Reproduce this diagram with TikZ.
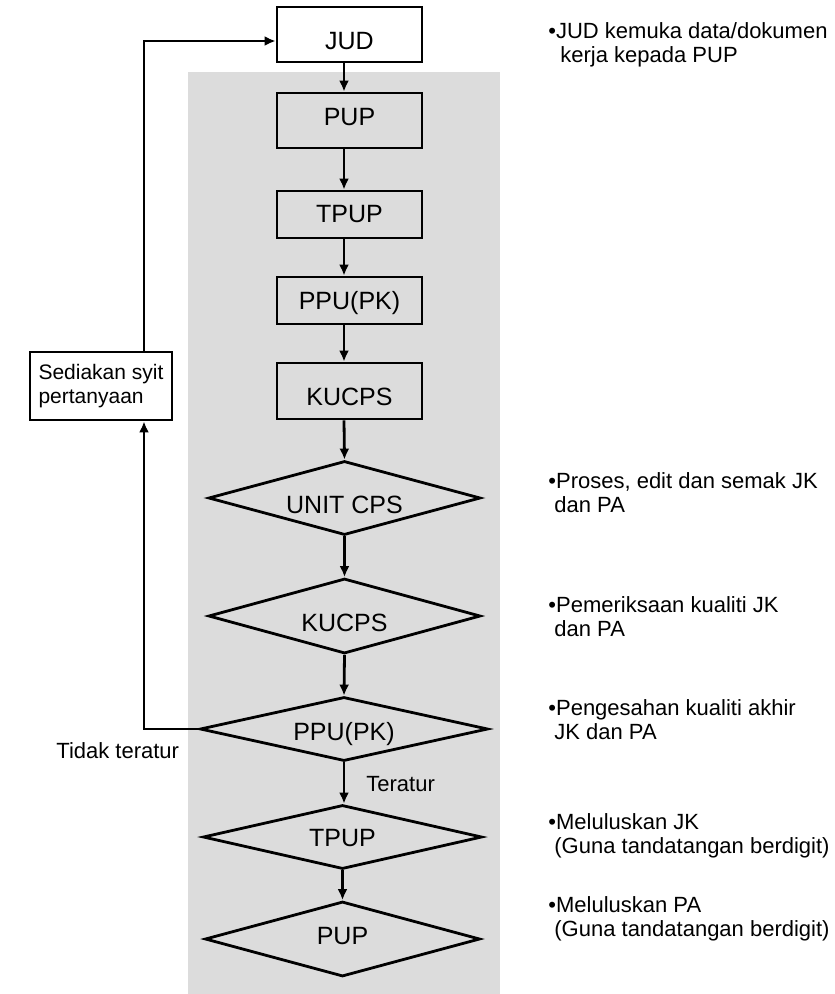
\documentclass[tikz,border=0pt]{standalone}
\usepackage{fontspec}
\setmainfont{Liberation Sans}
\usetikzlibrary{shapes.geometric,arrows.meta}
\definecolor{bggray}{RGB}{220,220,220}
\newcommand\tx[2]{\raisebox{#1pt}[0pt][0pt]{#2}}
\begin{document}
\begin{tikzpicture}[x=1pt,y=-1pt,
  line width=2.8pt,
  box/.style={draw=black, rectangle, inner sep=0pt, minimum width=145pt, font=\fontsize{25}{28}\selectfont},
  dia/.style={draw=black, diamond, inner sep=0pt, font=\fontsize{25}{28}\selectfont},
  note/.style={anchor=base west, inner sep=0pt, font=\fontsize{22}{24}\selectfont},
  arr/.style={-{Latex[length=11pt,width=10pt]}}]
\useasboundingbox (0,0) rectangle (835,994);
\fill[bggray] (188,72) rectangle (500,994);
\coordinate (ax) at (344,0);
\coordinate (lp) at (144,0);
% boxes
\node[box, fill=white, minimum height=55pt] (JUD) at (349.5,34.5) {\tx{-15}{JUD}};
\node[box, minimum height=55pt] (PUP) at (349.5,120.5) {\tx{-4.5}{PUP}};
\node[box, minimum height=47pt] (TPUP) at (349.5,214.5) {\tx{-7.5}{TPUP}};
\node[box, minimum height=47pt] (PPU) at (349.5,300.5) {\tx{-9}{PPU(PK)}};
\node[box, minimum height=56pt] (KUCPS) at (349.5,391) {\tx{-14}{KUCPS}};
% diamonds
\node[dia, aspect=3.68, minimum width=272pt, minimum height=74pt] (d1) at (344.5,498) {\tx{-15}{UNIT CPS}};
\node[dia, aspect=3.63, minimum width=272pt, minimum height=75pt] (d2) at (344.5,616) {\tx{-15}{KUCPS}};
\node[dia, aspect=4.5, minimum width=288pt, minimum height=64pt] (d3) at (344,729) {\tx{-11}{PPU(PK)}};
\node[dia, aspect=4.36, minimum width=279pt, minimum height=64pt] (d4) at (342.5,837) {\tx{-9}{TPUP}};
\node[dia, aspect=3.67, minimum width=275pt, minimum height=75pt] (d5) at (342.5,939) {\tx{-5}{PUP}};
% side box
\node[draw=black, fill=white, rectangle, inner xsep=7pt, inner ysep=0pt, minimum width=142pt, minimum height=68pt,
      font=\fontsize{21}{24}\selectfont, align=left] (sed) at (101,386) {Sediakan syit\\pertanyaan};
% connectors
\draw[arr] (JUD.south -| ax) -- (PUP.north -| ax);
\draw[arr] (PUP.south -| ax) -- (TPUP.north -| ax);
\draw[arr] (TPUP.south -| ax) -- (PPU.north -| ax);
\draw[arr] (PPU.south -| ax) -- (KUCPS.north -| ax);
\draw[arr] (KUCPS.south -| ax) -- (d1.north);
\draw[arr] (d1.south) -- (d2.north);
\draw[arr] (d2.south) -- (d3.north);
\draw[arr] (d3.south) -- (d3.south |- d4.north);
\draw[arr] (d4.south) -- (d5.north);
\draw[arr] (d3.west) -- (d3.west -| lp) -- (sed.south -| lp);
\draw[arr] (sed.north -| lp) |- ([yshift=-6.5pt]JUD.west);
% labels
\node[note] (tt) at (55,758) {Tidak teratur};
\node[note] (ter) at (365,791) {Teratur};
% notes
\node[note] (n1) at (547,38) {\begin{tabular}[t]{@{}l@{}}•JUD kemuka data/dokumen\\\hspace{12pt}kerja kepada PUP\end{tabular}};
\node[note] (n2) at (547,488) {\begin{tabular}[t]{@{}l@{}}•Proses, edit dan semak JK\\\hspace{6pt}dan PA\end{tabular}};
\node[note] (n3) at (547,612) {\begin{tabular}[t]{@{}l@{}}•Pemeriksaan kualiti JK\\\hspace{6pt}dan PA\end{tabular}};
\node[note] (n4) at (547,715) {\begin{tabular}[t]{@{}l@{}}•Pengesahan kualiti akhir\\\hspace{6pt}JK dan PA\end{tabular}};
\node[note] (n5) at (547,829) {\begin{tabular}[t]{@{}l@{}}•Meluluskan JK\\\hspace{6pt}(Guna tandatangan berdigit)\end{tabular}};
\node[note] (n6) at (547,912) {\begin{tabular}[t]{@{}l@{}}•Meluluskan PA\\\hspace{6pt}(Guna tandatangan berdigit)\end{tabular}};
\end{tikzpicture}
\end{document}
